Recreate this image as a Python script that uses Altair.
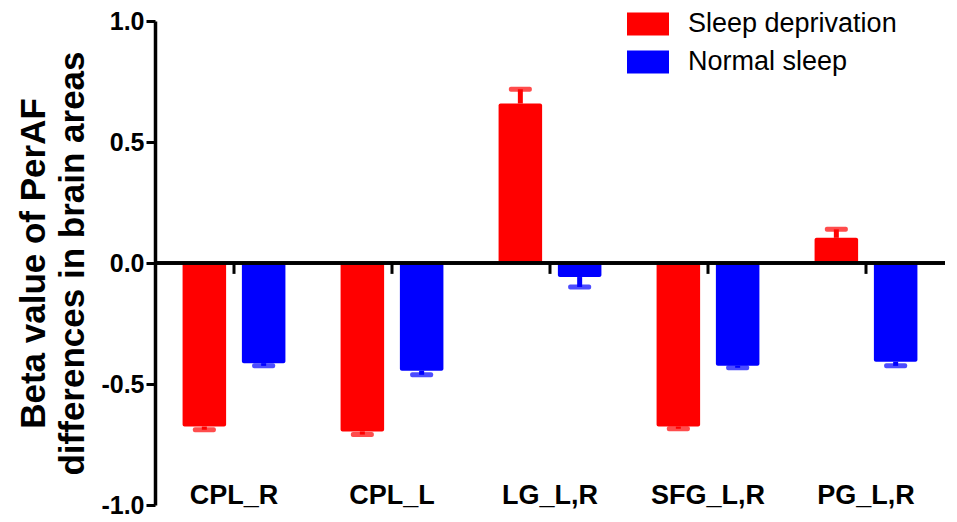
import altair as alt
import pandas as pd

categories = ["CPL_R", "CPL_L", "LG_L,R", "SFG_L,R", "PG_L,R"]
groups = ["Sleep deprivation", "Normal sleep"]
sleep_dep = [-0.676, -0.696, 0.659, -0.676, 0.104]
sleep_dep_err = [0.013, 0.013, 0.059, 0.009, 0.035]
normal = [-0.414, -0.445, -0.058, -0.425, -0.408]
normal_err = [0.011, 0.017, 0.041, 0.008, 0.017]
colors = ["#FF0000", "#0000FF"]

rows = []
for i, c in enumerate(categories):
    for g, vals, errs in ((groups[0], sleep_dep, sleep_dep_err), (groups[1], normal, normal_err)):
        v = vals[i]
        e = errs[i]
        end = v + e if v >= 0 else v - e
        rows.append({"cat": c, "grp": g, "value": v, "end": end})
df = pd.DataFrame(rows)
cat_df = pd.DataFrame({"cat": categories})

FONT = "Liberation Sans"
YTITLE = ["Beta value of PerAF", "differences in brain areas"]

def X():
    return alt.X(
        "cat:N", sort=categories,
        scale=alt.Scale(paddingInner=0, paddingOuter=0),
        axis=alt.Axis(title=None, ticks=False, domain=False, labelAngle=0,
                      labelFont=FONT, labelFontSize=27, labelFontWeight="bold",
                      labelColor="black", labelBaseline="alphabetic", labelPadding=-2),
    )

def Y(field):
    return alt.Y(
        field, title=YTITLE,
        scale=alt.Scale(domain=[-1, 1], nice=False, zero=False),
        axis=alt.Axis(values=[-1, -0.5, 0, 0.5, 1], format=".1f",
                      labelExpr="replace(datum.label, '\u2212', '-')",
                      grid=False, domainColor="black", domainWidth=3.5,
                      tickColor="black", tickWidth=3, tickSize=9, labelPadding=2,
                      labelFont=FONT, labelFontSize=25, labelFontWeight="bold",
                      labelColor="black", titleFont=FONT, titleFontSize=35,
                      titleFontWeight="bold", titleColor="black",
                      titleLineHeight=39, titlePadding=10),
    )

XOFF = alt.XOffset("grp:N", sort=groups,
                   scale=alt.Scale(paddingInner=0.266, paddingOuter=0.465))

def C(legend):
    return alt.Color("grp:N", sort=groups,
                     scale=alt.Scale(domain=groups, range=colors),
                     legend=legend)

legend = alt.Legend(title=None, orient="none", legendX=472, legendY=-18,
                    symbolType="M-1,-0.55H1V0.55H-1Z", symbolSize=1764,
                    symbolStrokeWidth=0, symbolOpacity=1, rowPadding=4,
                    labelFont=FONT, labelFontSize=27, labelColor="black",
                    labelOffset=19, labelLimit=0, padding=0)

bars = alt.Chart(df).mark_bar(cornerRadius=2).encode(
    x=X(), xOffset=XOFF, y=Y("value:Q"), y2=alt.Y2(datum=0), color=C(legend)
)

stems = alt.Chart(df).mark_rule(strokeWidth=5).encode(
    x=X(), xOffset=XOFF, y=Y("value:Q"), y2="end:Q", color=C(None)
)

caps = alt.Chart(df).mark_tick(size=23, thickness=5, cornerRadius=2).encode(
    x=X(), xOffset=XOFF, y=Y("end:Q"), color=C(None)
)

zero = alt.Chart(cat_df).mark_rule(color="black", strokeWidth=3).encode(
    y=alt.Y(datum=0, title=YTITLE)
)

gticks = alt.Chart(cat_df).mark_rule(color="black", strokeWidth=3).encode(
    x=X(), y=alt.Y(datum=0, title=YTITLE), y2=alt.Y2(datum=-0.045)
)

chart = alt.layer(bars, stems, caps, zero, gticks).properties(
    width=790, height=484,
    autosize=alt.AutoSizeParams(type="none"),
    padding={"left": 147, "top": 13, "right": 4, "bottom": 14},
    background="white",
).configure_view(stroke=None)

chart.save("out.html", embed_options={"renderer": "svg", "actions": False})
